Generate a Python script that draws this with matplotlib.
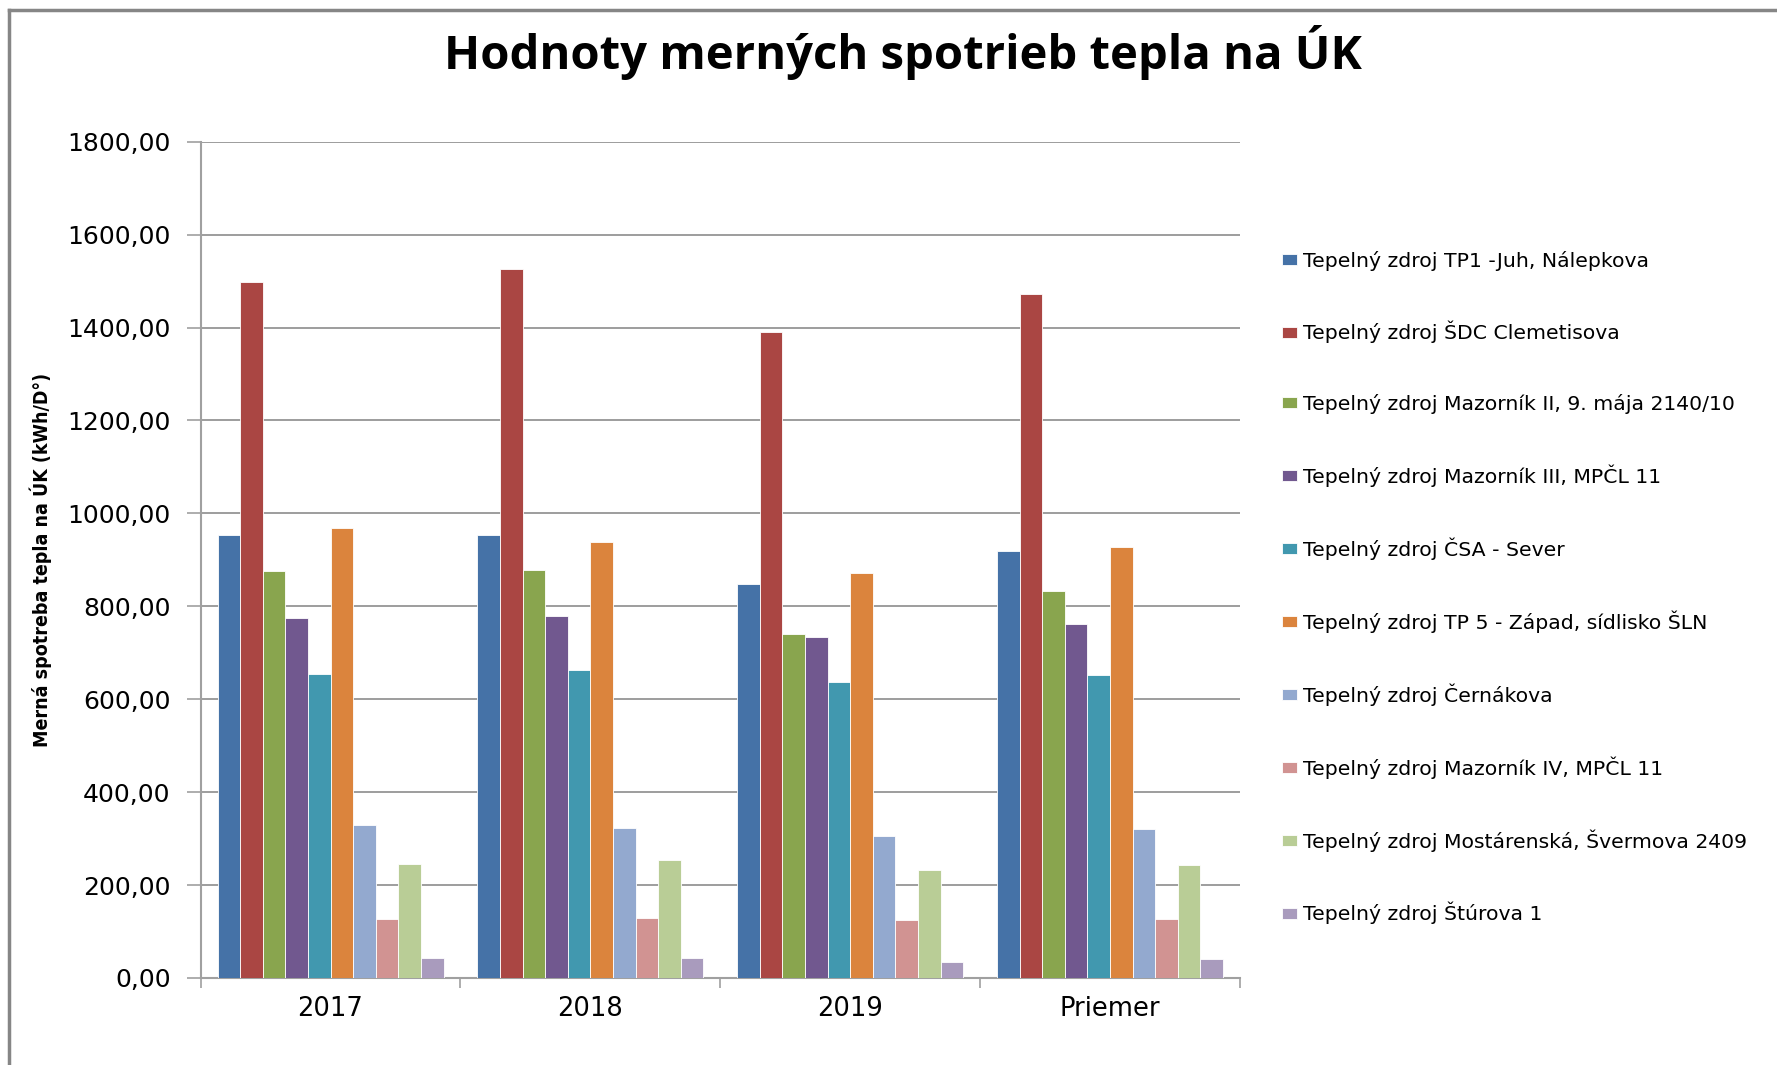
import matplotlib
matplotlib.use("Agg")
import matplotlib.pyplot as plt
import numpy as np
from matplotlib.lines import Line2D

# kategórie (roky + priemer)
categories = ['2017', '2018', '2019', 'Priemer']

# názvy zdrojov (legenda)
sources = [
    'Tepelný zdroj TP1 -Juh, Nálepkova',
    'Tepelný zdroj ŠDC Clemetisova',
    'Tepelný zdroj Mazorník II, 9. mája 2140/10',
    'Tepelný zdroj Mazorník III, MPČL 11',
    'Tepelný zdroj ČSA - Sever',
    'Tepelný zdroj TP 5 - Západ, sídlisko ŠLN',
    'Tepelný zdroj Černákova',
    'Tepelný zdroj Mazorník IV, MPČL 11',
    'Tepelný zdroj Mostárenská, Švermova 2409',
    'Tepelný zdroj Štúrova 1',
]

# hodnoty pre každý zdroj: 2017, 2018, 2019, Priemer
tp1_juh = [953, 953, 847, 918]
sdc_clemetisova = [1498, 1526, 1391, 1472]
mazornik_2 = [877, 879, 741, 833]
mazornik_3 = [774, 779, 734, 762]
csa_sever = [654, 662, 638, 652]
tp5_zapad = [969, 938, 872, 927]
cernakova = [329, 323, 306, 320]
mazornik_4 = [127, 130, 125, 127]
mostarenska = [246, 253, 233, 244]
sturova = [44, 44, 35, 41]

values = [tp1_juh, sdc_clemetisova, mazornik_2, mazornik_3, csa_sever,
          tp5_zapad, cernakova, mazornik_4, mostarenska, sturova]

colors = ['#4572A7', '#AA4643', '#89A54E', '#71588F', '#4198AF',
          '#DB843D', '#93A9CF', '#D19392', '#B9CD96', '#A99BBD']

W, H = 1777, 1065
fig = plt.figure(figsize=(W / 100, H / 100), dpi=100)
ax = fig.add_axes([200.6 / W, (H - 978) / H, (1240 - 200.6) / W, (978 - 141.7) / H])

x = np.arange(len(categories))
n = len(values)
width = 1 / (n + 1.5)
for i, (vals, col, lab) in enumerate(zip(values, colors, sources)):
    ax.bar(x + (i - (n - 1) / 2) * width, vals, width, color=col, label=lab,
           edgecolor='white', linewidth=0.6, zorder=3)

ax.set_xlim(-0.5, len(categories) - 0.5)
ax.set_ylim(0, 1800)
ax.set_yticks(np.arange(0, 1801, 200))
ax.set_yticklabels(['%d,00' % v for v in np.arange(0, 1801, 200)], fontsize=18)
ax.yaxis.grid(True, color='#8C8C8C', linewidth=1.2, zorder=0)

ax.set_xticks(x)
ax.set_xticklabels(categories, fontsize=18.5)
ax.set_xticks(np.arange(-0.5, len(categories), 1), minor=True)
ax.tick_params(axis='x', which='major', length=0, pad=13)
ax.tick_params(axis='x', which='minor', length=7, color='#A0A0A0', width=1.2)
ax.tick_params(axis='y', length=10, color='#A0A0A0', width=1.2, pad=11.5)

for s in ['top', 'right']:
    ax.spines[s].set_visible(False)
for s in ['left', 'bottom']:
    ax.spines[s].set_color('#A0A0A0')
    ax.spines[s].set_linewidth(1.5)

ax.set_ylabel('Merná spotreba tepla na ÚK (kWh/D°)', fontsize=14,
              fontweight='bold', family='DejaVu Sans', fontstretch='condensed')
ax.yaxis.set_label_coords(-0.143, 0.5)

fig.text(903 / W, 1 - 53 / H, 'Hodnoty merných spotrieb tepla na ÚK',
         ha='center', va='center', fontsize=34, fontweight='bold', family='Open Sans')

ax.legend(loc='center left', bbox_to_anchor=(1282 / W, 1 - 587.5 / H),
          bbox_transform=fig.transFigure, frameon=False, fontsize=14.7,
          labelspacing=2.47, handlelength=0.75, handleheight=0.45,
          handletextpad=0.3, borderpad=0, borderaxespad=0)

# okraj oblasti grafu
fig.add_artist(Line2D([9 / W, 9 / W], [0, 1 - 10 / H], color='#868686', linewidth=2.5,
                      transform=fig.transFigure))
fig.add_artist(Line2D([9 / W, 1], [1 - 10 / H, 1 - 10 / H], color='#868686', linewidth=2.5,
                      transform=fig.transFigure))

fig.savefig('out.png', dpi=100)
